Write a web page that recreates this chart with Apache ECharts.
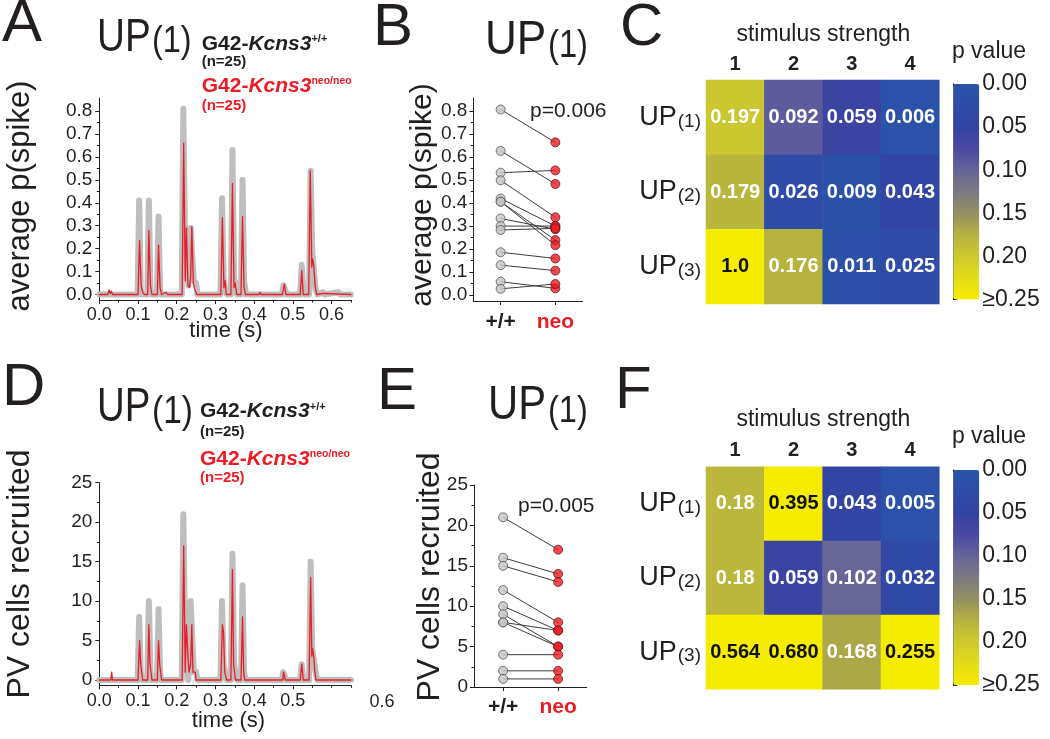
<!DOCTYPE html>
<html><head><meta charset="utf-8">
<script src="https://cdn.jsdelivr.net/npm/echarts@6/dist/echarts.min.js"></script>
<style>html,body{margin:0;padding:0;background:#fff}#c{width:1050px;height:739px}</style>
</head><body><div id="c"></div>
<script>
// ---------- DATA ----------
// Panel A: average p(spike) vs time (s)
const traceA_wt = [[0,0],[0.099,0],[0.103,0.41],[0.107,0.02],[0.110,0],
 [0.124,0],[0.128,0.41],[0.132,0.03],[0.135,0],
 [0.149,0],[0.153,0.34],[0.157,0.02],[0.160,0],
 [0.213,0],[0.217,0.81],[0.221,0.30],[0.226,0.30],[0.230,0.04],[0.236,0.29],[0.240,0.29],[0.244,0.06],[0.250,0.05],[0.254,0],
 [0.313,0],[0.317,0.42],[0.321,0.08],[0.325,0.02],[0.330,0],
 [0.340,0],[0.344,0.63],[0.348,0.07],[0.352,0.05],[0.356,0],
 [0.366,0],[0.370,0.50],[0.374,0.06],[0.379,0],
 [0.472,0],[0.476,0.04],[0.480,0.04],[0.484,0],
 [0.519,0],[0.523,0.13],[0.527,0.02],[0.531,0],
 [0.542,0],[0.546,0.54],[0.550,0.19],[0.555,0.19],[0.559,0.02],[0.564,0],
 [0.578,0.01],[0.582,0],[0.618,0.01],[0.622,0],[0.65,0]];
const traceA_neo = [[0,0],[0.022,0],[0.025,0.02],[0.028,0.005],[0.031,0.015],[0.034,0],
 [0.100,0],[0.104,0.235],[0.108,0.04],[0.112,0.01],[0.116,0],
 [0.125,0],[0.128,0.28],[0.132,0.04],[0.136,0],
 [0.150,0],[0.153,0.215],[0.157,0.03],[0.161,0],[0.172,0.01],[0.176,0],
 [0.214,0],[0.218,0.66],[0.222,0.06],[0.225,0.29],[0.229,0.04],[0.233,0.03],[0.236,0.08],[0.239,0.295],[0.243,0.05],[0.247,0.02],[0.252,0],
 [0.314,0],[0.318,0.335],[0.322,0.03],[0.325,0.06],[0.328,0],
 [0.340,0],[0.344,0.485],[0.348,0.03],[0.351,0.05],[0.355,0],
 [0.366,0],[0.370,0.34],[0.374,0.03],[0.378,0],
 [0.413,0],[0.415,0.01],[0.418,0],
 [0.473,0],[0.478,0.045],[0.482,0],
 [0.519,0],[0.523,0.105],[0.527,0],
 [0.541,0],[0.545,0.54],[0.549,0.12],[0.551,0.155],[0.554,0.128],[0.558,0.03],[0.562,0],
 [0.578,0.005],[0.582,0],[0.65,0]];
// Panel D: PV cells recruited vs time (s)
const traceD_wt = [[0,0],[0.099,0],[0.103,8],[0.107,1],[0.110,0],
 [0.124,0],[0.128,10],[0.132,1],[0.135,0],
 [0.149,0],[0.153,9],[0.157,1],[0.160,0],
 [0.213,0],[0.217,21],[0.221,8],[0.226,8],[0.230,0],[0.236,10],[0.240,10],[0.244,1],[0.250,1],[0.254,0],
 [0.313,0],[0.317,10],[0.321,2],[0.325,1],[0.329,0],
 [0.340,0],[0.344,16],[0.348,2],[0.352,2],[0.356,0],
 [0.366,0],[0.370,12],[0.374,1],[0.378,0],
 [0.472,0],[0.475,1],[0.480,1],[0.483,0],
 [0.519,0],[0.523,2],[0.527,0],
 [0.542,0],[0.546,15],[0.550,4],[0.555,4],[0.559,1],[0.563,0],
 [0.65,0]];
const traceD_neo = [[0,0],[0.030,0],[0.032,1],[0.034,0],
 [0.100,0],[0.104,5],[0.107,2],[0.110,2],[0.112,0],
 [0.125,0],[0.128,7],[0.131,2],[0.134,2],[0.136,0],
 [0.150,0],[0.153,5],[0.156,2],[0.159,2],[0.161,0],
 [0.214,0],[0.218,17],[0.222,1],[0.225,7],[0.229,3],[0.232,1],[0.236,2],[0.239,7],[0.242,1],[0.248,1],[0.250,0],
 [0.314,0],[0.318,7],[0.321,6],[0.324,1],[0.327,1],[0.329,0],
 [0.340,0],[0.344,14],[0.347,2],[0.350,2],[0.352,0],
 [0.366,0],[0.370,8],[0.373,1],[0.376,0],
 [0.474,0],[0.476,1],[0.479,1],[0.481,0],
 [0.519,0],[0.523,2],[0.527,0],
 [0.542,0],[0.546,13],[0.549,3],[0.551,4],[0.554,3],[0.557,1],[0.560,0],
 [0.65,0]];
// Panel B / E paired values (+/+ , neo)
const pairCats = ['+/+', 'neo'];
const pairB_wt  = [0.807,0.627,0.532,0.499,0.420,0.406,0.406,0.333,0.300,0.283,0.186,0.130,0.058,0.027];
const pairB_neo = [0.664,0.483,0.542,0.338,0.300,0.239,0.217,0.286,0.300,0.290,0.159,0.106,0.029,0.048];
const pairE_wt  = [21,16,15,12,10,9,8,8,4,2,1];
const pairE_neo = [17,14,13,8,7,5,7,5,4,2,1];
const pTextB = 'p=0.006';
const pTextE = 'p=0.005';
// Panels C / F heatmaps
const stimCats = ['1','2','3','4'];
const upCats = ['UP(1)','UP(2)','UP(3)'];
const pC = [['0.197','0.092','0.059','0.006'],['0.179','0.026','0.009','0.043'],['1.0','0.176','0.011','0.025']];
const pF = [['0.18','0.395','0.043','0.005'],['0.18','0.059','0.102','0.032'],['0.564','0.680','0.168','0.255']];
// tick values / labels
const timeTicks = [0,0.1,0.2,0.3,0.4,0.5,0.6];
const timeMinor = [0.05,0.15,0.25,0.35,0.45,0.55,0.65];
const timeTicksD = [0,0.1,0.2,0.3,0.4,0.5];
const probTicks = [0,0.1,0.2,0.3,0.4,0.5,0.6,0.7,0.8];
const probMinor = [0.05,0.15,0.25,0.35,0.45,0.55,0.65,0.75];
const cellTicks = [0,5,10,15,20,25];
const cellMinor = [2.5,7.5,12.5,17.5,22.5];
const cbTicks = [0,0.05,0.10,0.15,0.20,0.25];
const cbLabels = ['0.00','0.05','0.10','0.15','0.20','\u22650.25'];
const pColors = ['#2A54A8','#2E4BA6','#3343A2','#4A48A0','#66649A','#7C7A80','#928F62','#B5B240','#CDCA2E','#E2DC18','#F6EC00'];

// ---------- STYLE ----------
const FONT = '"Liberation Sans", Arial, Helvetica, sans-serif';
const AX = '#231f20';
const RED = '#ED1C24';
const lineS = {color: AX, width: 1};

function xMain(gi, min, max, ticks, fmt, fs, margin, rich) {
  return {gridIndex: gi, type: 'value', position: 'bottom', min, max,
    axisLine: {show: true, onZero: false, lineStyle: lineS},
    axisTick: {show: true, inside: false, length: 4, customValues: ticks, lineStyle: lineS},
    axisLabel: {show: true, customValues: ticks, formatter: fmt, fontSize: fs, fontFamily: FONT, color: AX, margin, rich},
    splitLine: {show: false}};
}
function xMinor(gi, min, max, ticks) {
  return {gridIndex: gi, type: 'value', position: 'bottom', min, max,
    axisLine: {show: false, onZero: false},
    axisTick: {show: true, inside: false, length: 2.5, customValues: ticks, lineStyle: lineS},
    axisLabel: {show: false}, splitLine: {show: false}};
}
function yMain(gi, min, max, ticks, fmt, fs, margin) {
  return {gridIndex: gi, type: 'value', position: 'left', min, max,
    axisLine: {show: true, onZero: false, lineStyle: lineS},
    axisTick: {show: true, inside: false, length: 4, customValues: ticks, lineStyle: lineS},
    axisLabel: {show: true, customValues: ticks, formatter: fmt, fontSize: fs, fontFamily: FONT, color: AX, margin},
    splitLine: {show: false}};
}
function yMinor(gi, min, max, ticks) {
  return {gridIndex: gi, type: 'value', position: 'left', min, max,
    axisLine: {show: false, onZero: false},
    axisTick: {show: true, inside: false, length: 2.5, customValues: ticks, lineStyle: lineS},
    axisLabel: {show: false}, splitLine: {show: false}};
}
const f1 = v => v.toFixed(1);
const f0 = v => String(Math.round(v));
const pairFmt = v => (Math.round(v) === 1 ? '{k|' + pairCats[0] + '}' : '{r|' + pairCats[1] + '}');
const pairRich = {k: {fontSize: 21, fontWeight: 'bold', color: AX, fontFamily: FONT},
                  r: {fontSize: 21, fontWeight: 'bold', color: RED, fontFamily: FONT}};

const grids = [
  {left: 99.3, top: 98, width: 251.6, height: 202},      // 0 A
  {left: 473.3, top: 98, width: 109.4, height: 203},     // 1 B
  {left: 706, top: 80, width: 233.3, height: 224},       // 2 C
  {left: 953.3, top: 84, width: 26, height: 215.5},      // 3 C colorbar
  {left: 99.3, top: 482.7, width: 251.6, height: 202.6}, // 4 D
  {left: 474, top: 485, width: 112.7, height: 202},      // 5 E
  {left: 706, top: 466.7, width: 233.3, height: 222.6},  // 6 F
  {left: 953.3, top: 470, width: 26, height: 215}        // 7 F colorbar
];

const xAxes = [], yAxes = [];
function addX(a) { xAxes.push(a); return xAxes.length - 1; }
function addY(a) { yAxes.push(a); return yAxes.length - 1; }

// A
const xA = addX(xMain(0, 0, 0.65, timeTicks, f1, 18, 6)); addX(xMinor(0, 0, 0.65, timeMinor));
const yA = addY(yMain(0, -0.024, 0.857, probTicks, f1, 19, 7)); addY(yMinor(0, -0.024, 0.857, probMinor));
// B
const xB = addX(xMain(1, 0.5, 2.5, [1, 2], pairFmt, 21, 11, pairRich));
const yB = addY(yMain(1, -0.026, 0.857, probTicks, f1, 19, 6)); addY(yMinor(1, -0.026, 0.857, probMinor));
// D
const xD = addX(xMain(4, 0, 0.65, timeTicksD, f1, 18, 7)); addX(xMinor(4, 0, 0.65, timeMinor.concat([0.6])));
const yD = addY(yMain(4, -0.67, 25, cellTicks, f0, 19, 7)); addY(yMinor(4, -0.67, 25, cellMinor));
// E
const xE = addX(xMain(5, 0.47, 2.52, [1, 2], pairFmt, 21, 10, pairRich));
const yE = addY(yMain(5, 0, 25, cellTicks, f0, 19, 6)); addY(yMinor(5, 0, 25, cellMinor));

function heatAxes(gi) {
  const xi = addX({gridIndex: gi, type: 'category', position: 'top', data: stimCats,
    axisLine: {show: false}, axisTick: {show: false}, splitLine: {show: false},
    axisLabel: {fontSize: 20, fontWeight: 'bold', color: AX, fontFamily: FONT, margin: 6}});
  const yi = addY({gridIndex: gi, type: 'category', data: upCats, inverse: true,
    axisLine: {show: false}, axisTick: {show: false}, splitLine: {show: false},
    axisLabel: {margin: 5, fontFamily: FONT, color: AX,
      formatter: s => '{a|' + s.slice(0, 2) + '}{b|' + s.slice(2) + '}',
      rich: {a: {fontSize: 27, color: AX, fontFamily: FONT, verticalAlign: 'bottom'},
             b: {fontSize: 19, color: AX, fontFamily: FONT, verticalAlign: 'bottom', padding: [0, 0, 0, 1]}}}});
  return [xi, yi];
}
function cbAxes(gi) {
  addX({gridIndex: gi, type: 'value', show: false, min: 0, max: 1});
  addY({gridIndex: gi, type: 'value', position: 'right', min: 0, max: 0.25, interval: 0.05, inverse: true,
    axisLine: {show: true, lineStyle: lineS},
    axisTick: {show: true, inside: false, length: 4, lineStyle: lineS},
    axisLabel: {fontSize: 23, color: AX, fontFamily: FONT, margin: 3,
      formatter: v => cbLabels[cbTicks.findIndex(t => Math.abs(t - v) < 1e-6)] || ''},
    splitLine: {show: false}});
}
const [xC, yC] = heatAxes(2); cbAxes(3);
const [xF, yF] = heatAxes(6); cbAxes(7);

const series = [];
function trace(xi, yi, data, color, width, z) {
  series.push({type: 'line', xAxisIndex: xi, yAxisIndex: yi, data, symbol: 'none', showSymbol: false,
    lineStyle: {color, width, join: 'round', cap: 'round'}, z, silent: true, animation: false});
}
trace(xA, yA, traceA_wt, '#BEBEBE', 6, 2);
trace(xA, yA, traceA_neo, RED, 1.3, 3);
trace(xD, yD, traceD_wt, '#BEBEBE', 6, 2);
trace(xD, yD, traceD_neo, RED, 1.3, 3);

function pairs(xi, yi, wt, neo) {
  wt.forEach((v, i) => series.push({type: 'line', xAxisIndex: xi, yAxisIndex: yi,
    data: [[1, v], [2, neo[i]]], symbol: 'none', lineStyle: {color: '#3c3c3c', width: 1}, z: 2, silent: true}));
  series.push({type: 'scatter', xAxisIndex: xi, yAxisIndex: yi, data: wt.map(v => [1, v]), symbol: 'circle', symbolSize: 9,
    itemStyle: {color: '#C4C4C4', borderColor: '#4a4a4a', borderWidth: 0.9}, z: 4, silent: true});
  series.push({type: 'scatter', xAxisIndex: xi, yAxisIndex: yi, data: neo.map(v => [2, v]), symbol: 'circle', symbolSize: 9,
    itemStyle: {color: RED, borderColor: '#5a1010', borderWidth: 0.9}, z: 4, silent: true});
}
pairs(xB, yB, pairB_wt, pairB_neo);
pairs(xE, yE, pairE_wt, pairE_neo);

function heat(xi, yi, table) {
  const data = [];
  table.forEach((row, r) => row.forEach((s, c) => {
    const v = parseFloat(s);
    data.push({value: [c, r, Math.min(v, 0.25)], txt: s, label: {color: v >= 0.25 ? '#111' : '#fff'}});
  }));
  series.push({type: 'heatmap', xAxisIndex: xi, yAxisIndex: yi, data,
    label: {show: true, fontSize: 20, fontWeight: 'bold', fontFamily: FONT, formatter: p => p.data.txt},
    itemStyle: {borderWidth: 0}, silent: true});
  return series.length - 1;
}
const sC = heat(xC, yC, pC);
const sF = heat(xF, yF, pF);

function vm(si, top, h) {
  return {type: 'continuous', seriesIndex: si, dimension: 2, min: 0, max: 0.25, inverse: true, orient: 'vertical',
    left: 953.3, top, itemWidth: 26, itemHeight: h, padding: 0, calculable: false, hoverLink: false,
    inRange: {color: pColors}, textStyle: {fontSize: 0}};
}

// ---------- TEXT ----------
const G = [];
function T(x, y, text, o) {
  o = o || {};
  G.push({type: 'text', x, y, rotation: o.rot || 0, scaleX: o.sx || 1, z: 10,
    style: {text, fontSize: o.fs || 20, fontFamily: FONT, fontWeight: o.fw || 'normal', fill: o.fill || AX,
      align: o.align || 'left', verticalAlign: 'middle', rich: o.rich}});
}
// panel letters
[['A', 2, 24.5], ['B', 373, 28.5], ['C', 620, 28.5], ['D', 2, 388.5], ['E', 377, 392.5], ['F', 615, 391.5]]
  .forEach(([t, x, y]) => T(x, y, t, {fs: 60}));
// UP(1) titles
T(97, 38.5, 'UP', {fs: 46, sx: 0.84}); T(152, 42.5, '(1)', {fs: 36, sx: 0.9});
T(485, 40.5, 'UP', {fs: 49, sx: 0.9}); T(548, 47, '(1)', {fs: 38, sx: 0.86});
T(97, 407.5, 'UP', {fs: 48, sx: 0.8}); T(152, 413, '(1)', {fs: 38, sx: 0.88});
T(488, 405.5, 'UP', {fs: 48, sx: 0.87}); T(548, 412, '(1)', {fs: 37, sx: 0.88});
// legends
function legend(x, ys) {
  const r = (c, sup) => ({a: {fontSize: 21, fontWeight: 'bold', fill: c, fontFamily: FONT},
    b: {fontSize: 21, fontWeight: 'bold', fontStyle: 'italic', fill: c, fontFamily: FONT},
    s: {fontSize: sup, fontWeight: 'bold', fill: c, fontFamily: FONT, verticalAlign: 'top'}});
  T(x, ys[0], '{a|G42-}{b|Kcns3}{s|+/+}', {rich: r(AX, 11)});
  T(x, ys[1], '(n=25)', {fs: 15, fw: 'bold'});
  T(x, ys[2], '{a|G42-}{b|Kcns3}{s|neo/neo}', {rich: r(RED, 10.5), fill: RED});
  T(x, ys[3], '(n=25)', {fs: 15, fw: 'bold', fill: RED});
}
legend(201.7, [44, 62, 86.5, 105.5]);
legend(200, [411.5, 432, 459.5, 477.5]);
// axis names
const R90 = Math.PI / 2;
T(20, 196, 'average p(spike)', {fs: 31, rot: R90, align: 'center'});
T(423, 195, 'average p(spike)', {fs: 30, rot: R90, align: 'center'});
T(20, 574, 'PV cells recruited', {fs: 32, rot: R90, align: 'center'});
T(430, 577, 'PV cells recruited', {fs: 32, rot: R90, align: 'center'});
T(226, 331, 'time (s)', {fs: 22, align: 'center'});
T(228.5, 720.5, 'time (s)', {fs: 22, align: 'center'});
T(382, 701.7, '0.6', {fs: 18, align: 'center'});
T(530, 111.5, pTextB, {fs: 21});
T(518, 506.7, pTextE, {fs: 21});
T(823.3, 35, 'stimulus strength', {fs: 23, align: 'center'});
T(823.3, 420, 'stimulus strength', {fs: 23, align: 'center'});
T(989, 52, 'p value', {fs: 23, align: 'center'});
T(989, 437, 'p value', {fs: 23, align: 'center'});

const chart = echarts.init(document.getElementById('c'), null, {renderer: 'canvas'});
chart.setOption({
  backgroundColor: '#ffffff',
  animation: false,
  grid: grids,
  xAxis: xAxes,
  yAxis: yAxes,
  visualMap: [vm(sC, 84, 215.5), vm(sF, 470, 215)],
  series,
  graphic: G
});
</script></body></html>
